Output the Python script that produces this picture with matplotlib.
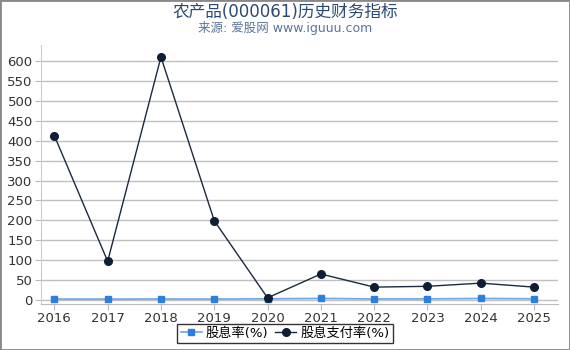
import matplotlib
matplotlib.use("Agg")
import matplotlib.pyplot as plt

plt.rcParams['font.family'] = ['DejaVu Sans', 'Noto Sans CJK SC']

years = [2016, 2017, 2018, 2019, 2020, 2021, 2022, 2023, 2024, 2025]
div_yield = [2.0, 1.8, 2.1, 2.0, 2.5, 3.5, 2.2, 2.4, 3.4, 2.6]
payout = [413, 97, 611, 199, 5, 65, 32, 34, 42, 32]
yticks = list(range(0, 601, 50))

fig = plt.figure(figsize=(5.7, 3.5), dpi=100)
ax = fig.add_axes([0.072, 0.132, 0.907, 0.738])

ax.plot(years, div_yield, color='#6aa6e6', marker='s', markersize=5,
        markerfacecolor='#2b7fe0', markeredgecolor='#2b7fe0', linewidth=1.2, label='股息率(%)')
ax.plot(years, payout, color='#1c2a40', marker='o', markersize=5.5,
        markerfacecolor='#0f1e36', markeredgecolor='#0f1e36', linewidth=1, label='股息支付率(%)')

ax.set_xlim(2015.75, 2025.45)
ax.set_ylim(-10, 640)
ax.set_xticks(years)
ax.set_yticks(yticks)
ax.tick_params(labelsize=9.5, colors='#333333', length=4, pad=2)
ax.tick_params(axis='both', color='#bbbbbb')
ax.grid(axis='y', color='#c0c0c0', linewidth=1)
ax.set_axisbelow(True)
for s in ['top', 'right']:
    ax.spines[s].set_visible(False)
ax.spines['left'].set_color('#cccccc')
ax.spines['bottom'].set_color('#bbbbbb')

fig.text(0.5, 0.967, '农产品(000061)历史财务指标', ha='center', va='center',
         fontsize=12, color='#2b4a70')
fig.text(0.5, 0.92, '来源: 爱股网 www.iguuu.com', ha='center', va='center',
         fontsize=9, color='#5b7598')

leg = fig.legend(loc='lower center', bbox_to_anchor=(0.5, 0.0), ncol=2, fontsize=9.5,
                 frameon=True, fancybox=False, handlelength=1.6, columnspacing=0.5,
                 handletextpad=0.3, borderpad=0.25)
leg.get_frame().set_edgecolor('black')
leg.get_frame().set_linewidth(1)

fig.patches.append(plt.Rectangle((0, 0), 1, 1, transform=fig.transFigure, fill=False,
                                 edgecolor='#888888', linewidth=2))

fig.savefig('out.png', dpi=100)
